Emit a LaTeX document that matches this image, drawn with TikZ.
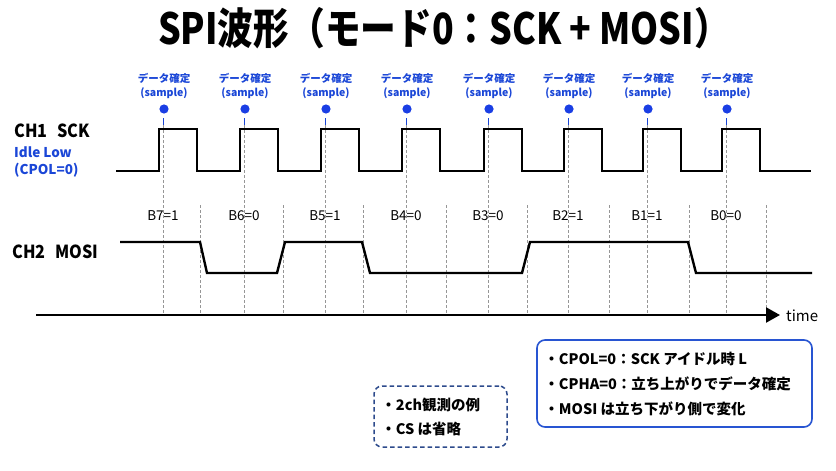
\documentclass[tikz,border=0pt]{standalone}
\usepackage{fontspec}
\setmainfont{Noto Sans CJK JP}
\usetikzlibrary{arrows.meta}
\definecolor{sblue}{RGB}{26,70,215}
\definecolor{dblue}{RGB}{26,62,228}
\definecolor{bblue}{RGB}{40,85,210}
\definecolor{nblue}{RGB}{45,75,140}
\definecolor{gridg}{RGB}{150,150,150}
\tikzset{
  wave/.style={line width=2.4pt, line join=miter, black},
  gridline/.style={gridg, line width=0.7pt, dash pattern=on 2.5pt off 2.5pt},
  samptext/.style={text=sblue, font=\bfseries\fontsize{10.5}{12}\selectfont, inner sep=0pt},
  bitlabel/.style={font=\fontsize{13.5}{15}\selectfont, inner sep=0pt},
  chlabel/.style={font=\bfseries\fontsize{18}{20}\selectfont, inner sep=0pt, anchor=west},
  notebox/.style={draw=bblue, line width=1.6pt, rounded corners=8pt},
  dashbox/.style={draw=nblue, line width=1.5pt, rounded corners=8pt, dash pattern=on 4.5pt off 3pt},
  notetext/.style={font=\bfseries\fontsize{14.5}{25}\selectfont, align=left, anchor=west, inner sep=0pt},
}
\begin{document}
\begin{tikzpicture}[x=1pt,y=-1pt]
\useasboundingbox (0,0) rectangle (836,471);
\fill[white] (0,0) rectangle (836,471);

% title
\node[font=\bfseries\fontsize{43}{48}\selectfont, inner sep=0pt] (title) at (444,28) {\scalebox{0.83}[1]{SPI波形（モード0：SCK + MOSI）}};

% channel labels
\node[chlabel] (ch1) at (14,131) {\scalebox{0.9}[1]{CH1\hspace{0.6em}SCK}};
\node[chlabel, text=sblue, font=\bfseries\fontsize{13.5}{17}\selectfont, align=left, anchor=north west] (idle) at (14,147) {Idle Low\\(CPOL=0)};
\node[chlabel] (ch2) at (12,252) {\scalebox{0.9}[1]{CH2\hspace{0.6em}MOSI}};

% sample lines, dots, labels, bit labels
\foreach \r/\b/\i in {159/B7=1/1,240/B6=0/2,321/B5=1/3,402/B4=0/4,484/B3=0/5,564/B2=1/6,643/B1=1/7,722/B0=0/8}{
  \pgfmathsetmacro{\sx}{\r+4}
  \draw[gridline] (\sx,125) -- (\sx,315);
  \draw[sblue, line width=0.9pt] (\sx,118) -- (\sx,125);
  \fill[dblue] (\sx+1,109) circle (4.6pt);
  \node[samptext] (dl\i) at (\sx+1,78) {データ確定};
  \node[samptext] (sl\i) at (\sx+1,93) {(sample)};
  \node[bitlabel] (bit\i) at (\sx,216) {\b};
}
% boundary lines
\foreach \x in {200,283,363,446,527,609,689,766}{
  \draw[gridline] (\x,205) -- (\x,315);
}

% SCK waveform
\draw[wave] (116,171)
  \foreach \r in {159,240,321,402,484,564,643,722}{
    -- (\r,171) -- (\r,129) -- (\r+38,129) -- (\r+38,171)
  } -- (811,171);

% MOSI waveform
\draw[wave] (120,242) -- (200,242) -- (207,273) -- (277,273) -- (285,242)
  -- (362,242) -- (370,273) -- (522,273) -- (530,242) -- (688,242)
  -- (696,273) -- (812,273);

% time axis
\coordinate (t0) at (36,315);
\node[font=\fontsize{15}{16}\selectfont, anchor=west, inner sep=0pt] (time) at (786,316) {time};
\draw[line width=2.4pt, -{Triangle[length=14pt,width=15pt]}] (t0) -- (780,315);

% note boxes
\node[notebox, minimum width=275pt, minimum height=87pt] (box1) at (674.5,383.5) {};
\node[notetext] (txt1) at ([xshift=8pt]box1.west) {・CPOL=0：SCK アイドル時 L\\・CPHA=0：立ち上がりでデータ確定\\・MOSI は立ち下がり側で変化};

\node[dashbox, minimum width=133pt, minimum height=61pt] (box2) at (440.5,416.5) {};
\node[notetext, font=\bfseries\fontsize{14.5}{24}\selectfont] (txt2) at ([xshift=8pt]box2.west) {・2ch観測の例\\・CS は省略};
\end{tikzpicture}
\end{document}
